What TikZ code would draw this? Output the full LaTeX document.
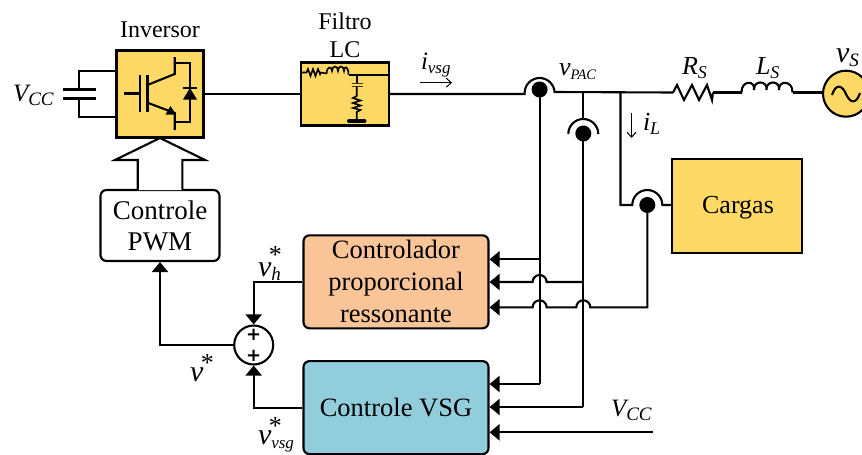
\documentclass[tikz,border=0pt]{standalone}
\usepackage{fontspec}
\setmainfont{Liberation Serif}
\newfontfamily\plusfont{DejaVu Sans}[BoldFont={DejaVu Sans Bold}]
\usetikzlibrary{arrows.meta,calc}
\definecolor{gold}{HTML}{FFD966}
\definecolor{peach}{HTML}{F8C498}
\definecolor{skyb}{HTML}{92CDDC}
\newcommand\fs[1]{\fontsize{#1}{#1}\selectfont}
\newcommand\subt[2]{\raisebox{-4.5pt}{\fs{#1}#2}}
\newcommand\startop[1]{\rlap{\kern-2.5pt\raisebox{#1}{\fs{26}\upshape *}}}
\tikzset{
  wire/.style={line width=2.1pt,draw=black,line join=miter},
  arrowed/.style={wire,-{Triangle[length=10pt,width=16pt]}},
  thin wire/.style={line width=1pt,draw=black,-{Straight Barb[length=5pt,width=9pt]}},
  block/.style={draw=black,line width=2.1pt,inner sep=0pt,align=center},
  roundblock/.style={block,rounded corners=6pt},
  lbl/.style={inner sep=0pt,outer sep=0pt},
  plus/.style={lbl,font=\plusfont\bfseries\fs{18}},
  fine/.style={line width=1.6pt,draw=black,line join=miter},
}
\begin{document}
\begin{tikzpicture}[x=1pt,y=-1pt]
\useasboundingbox (0,0) rectangle (862,455);
\clip (0,0) rectangle (862,455);
% blocks
\node[block,fill=gold,minimum width=87pt,minimum height=87pt] (inv) at (160,94) {};
\node[block,fill=gold,minimum width=88pt,minimum height=63pt] (lc) at (345,94) {};
\node[block,fill=gold,minimum width=130pt,minimum height=94pt] (load) at (737,206) {};
\node[lbl,font=\fs{26},anchor=base] (loadtext) at (738,213) {Cargas};
\node[roundblock,fill=white,minimum width=119pt,minimum height=71pt,font=\fontsize{27}{31}\selectfont] (pwm) at (160,225.5) {Controle\\PWM};
\node[roundblock,fill=peach,minimum width=185pt,minimum height=93pt,font=\fontsize{26.5}{32}\selectfont] (pr) at (396,281.8) {Controlador\\proporcional\\ressonante};
\node[roundblock,fill=skyb,minimum width=185pt,minimum height=93pt,font=\fs{26.5}] (vsg) at (396,407.6) {Controle VSG};
\node[circle,draw=black,line width=2.1pt,fill=white,minimum size=39pt,inner sep=0pt] (sum) at (253.7,345) {};
\node[plus] (p1) at (253.7,335) {+};
\node[plus] (p2) at (253.7,355.5) {+};
\node[circle,draw=black,line width=2.1pt,fill=gold,minimum size=46pt,inner sep=0pt] (src) at (846,93.7) {};
% named points
\coordinate (s1) at (539.6,89.5);
\coordinate (s2) at (583.3,133.5);
\coordinate (s3) at (647.3,205);
\coordinate (j2) at (583.3,92);
\coordinate (j3) at (620.5,92);
\coordinate (rs1) at (673,92.5);
\coordinate (rs2) at (713,92.5);
\coordinate (ls1) at (741.5,92.5);
\coordinate (ls2) at (792.5,92.5);
\coordinate (pr1) at (539.6,259.3);
\coordinate (pr2) at (583.3,282);
\coordinate (pr3) at (647.3,307.3);
\coordinate (vs1) at (539.6,384);
\coordinate (vs2) at (583.3,407);
\coordinate (vcc) at (653,432.3);
\coordinate (capt) at (79,71);
\coordinate (capb) at (79,117);
% capacitor
\draw[wire] (inv.west |- capt) -- (capt) -- (79,90);
\draw[wire] (inv.west |- capb) -- (capb) -- (79,98);
\draw[line width=3pt] (63,89.5) -- (96,89.5) (63,98) -- (96,98);
% IGBT
\draw[wire] (124,93.5) -- (139,93.5);
\draw[wire] (140,75) -- (140,112) (147.5,75) -- (147.5,112);
\draw[wire] (147.5,85) -- (174.7,74) -- (174.7,57);
\draw[wire] (147.5,102.7) -- (174.7,113) -- (174.7,130);
\fill (176,114.5) -- (165.5,114.5) -- (170.5,106) -- cycle;
\draw[wire] (174.7,62.7) -- (190,62.7) -- (190,122) -- (174.7,122);
\draw[line width=1.6pt] (183,87.7) -- (197,87.7);
\fill (190,88) -- (197,99.5) -- (183,99.5) -- cycle;
% big arrow
\draw[fill=white,wire] (137.7,190) -- (137.7,160) -- (115,160) -- (160,138) -- (205,160) -- (182.3,160) -- (182.3,190);
% LC filter internals
\draw[fine] (302,72.5) -- (306.5,72.5) -- (308,69) -- (310.5,76) -- (313,69) -- (315.5,76) -- (318,69) -- (320,74) -- (320.5,72.5) -- (326.7,73.5);
\draw[fine] (326.7,73.5) .. controls (326.5,66) and (332,66) .. (332,71) .. controls (332,65) and (338,65) .. (338,71) .. controls (338,65) and (344,65) .. (344,71) .. controls (344,65) and (348.5,66) .. (348.5,74.7);
\draw[wire] (348.5,74.7) -- (388,74.7);
\draw[fine] (356.7,74.7) -- (356.7,83.3);
\draw[line width=1.2pt,draw=black!75!gold] (351.7,83.3) -- (362.7,83.3) (351.7,86.5) -- (362.7,86.5);
\draw[fine] (356.7,86.5) -- (356.7,96) -- (353,98) -- (360.5,100.5) -- (353,103) -- (360.5,105.5) -- (353,108) -- (360.5,110) -- (356.7,112) -- (356.7,121);
\draw[line width=4pt,line cap=round] (349,121) -- (364.5,121);
% power line
\draw[wire] (inv.east) -- (lc.west);
\draw[wire] (lc.east) -- (524.6,94) -- (524.6,93) arc[start angle=180,end angle=360,radius=15] -- (554.6,92) -- (rs1);
\draw[wire] (rs1) -- (677,85) -- (684,100) -- (692,85) -- (699,100) -- (707,85) -- (712,100) -- (rs2);
\draw[wire] (rs2) -- (ls1);
\draw[wire] (ls1) .. controls (741,80) and (756,80) .. (754,90) .. controls (753,80) and (768,80) .. (766.5,90) .. controls (765.5,80) and (780.5,80) .. (779,90) .. controls (778,80) and (793,80) .. (ls2);
\draw[wire] (ls2) -- (ls2 -| src.west);
\draw[line width=2.1pt] (832,95) .. controls (836,83) and (842,85) .. (846,94) .. controls (850,103) and (856,105) .. (860,93);
% sensors
\fill (s1) circle[radius=8pt];
\fill (s2) circle[radius=8pt];
\fill (s3) circle[radius=8pt];
\draw[wire] (j2) -- (583.3,119);
\draw[wire] (568.3,134) arc[start angle=180,end angle=360,radius=15];
\draw[wire] (j3) -- (620.5,205) -- (632.3,205) arc[start angle=180,end angle=360,radius=15] -- (load.west |- s3);
\draw[wire] (s1) -- (vs1);
\draw[wire] (s2) -- (vs2);
% feedback
\draw[arrowed] (pr1) -- (pr1 -| pr.east);
\draw[arrowed] (pr2) -- (546.6,282) arc[start angle=360,end angle=180,radius=7] -- (pr2 -| pr.east);
\draw[arrowed] (s3) -- (pr3) -- (590.3,307.3) arc[start angle=360,end angle=180,radius=7] -- (546.6,307.3) arc[start angle=360,end angle=180,radius=7] -- (pr3 -| pr.east);
\draw[arrowed] (vs1) -- (vs1 -| vsg.east);
\draw[arrowed] (vs2) -- (vs2 -| vsg.east);
\draw[arrowed] (vcc) -- (vcc -| vsg.east);
\draw[arrowed] (pr.west) -| (sum.north);
\draw[arrowed] (vsg.west) -| (sum.south);
\draw[arrowed] (sum.west) -| (pwm.south);
% labels
\node[lbl,font=\fs{24}] (tinv) at (160,30) {Inversor};
\node[lbl,font=\fs{24}] (tf) at (345,21) {Filtro};
\node[lbl,font=\fs{24}] (tlc) at (345,50) {LC};
\node[lbl,font=\itshape\fs{25},anchor=base west] (lvcc) at (13,101) {V\subt{19}{CC}};
\node[lbl,font=\itshape\fs{25},anchor=base west] (livsg) at (421,69) {i\subt{17}{vsg}};
\coordinate (ia1) at (420,82.7);
\coordinate (ia2) at (452,82.7);
\draw[thin wire] (ia1) -- (ia2);
\node[lbl,font=\itshape\fs{26},anchor=base west] (lpac) at (559,75) {v\subt{14.5}{PAC}};
\node[lbl,font=\itshape\fs{26},anchor=base west] (lrs) at (682,74) {R\subt{18}{S}};
\node[lbl,font=\itshape\fs{26},anchor=base west] (lls) at (756,74) {L\subt{18}{S}};
\node[lbl,font=\itshape\fs{30},anchor=base west] (lvs) at (836,62) {v\subt{19}{S}};
\coordinate (il1) at (631.5,113);
\coordinate (il2) at (631.5,138);
\draw[thin wire] (il1) -- (il2);
\node[lbl,font=\itshape\fs{26},anchor=base west] (lil) at (643,130) {i\subt{18}{L}};
\node[lbl,font=\itshape\fs{30},anchor=base west] (lvh) at (258,276) {v\startop{12.5pt}\subt{19}{h}};
\node[lbl,font=\itshape\fs{30},anchor=base west] (lv) at (190,381.5) {v\startop{10.5pt}};
\node[lbl,font=\itshape\fs{30},anchor=base west] (lvv) at (258,444) {v\startop{9.5pt}\subt{17}{vsg}};
\node[lbl,font=\itshape\fs{25},anchor=base west] (lvc2) at (611,416) {V\subt{19}{CC}};
\end{tikzpicture}
\end{document}
